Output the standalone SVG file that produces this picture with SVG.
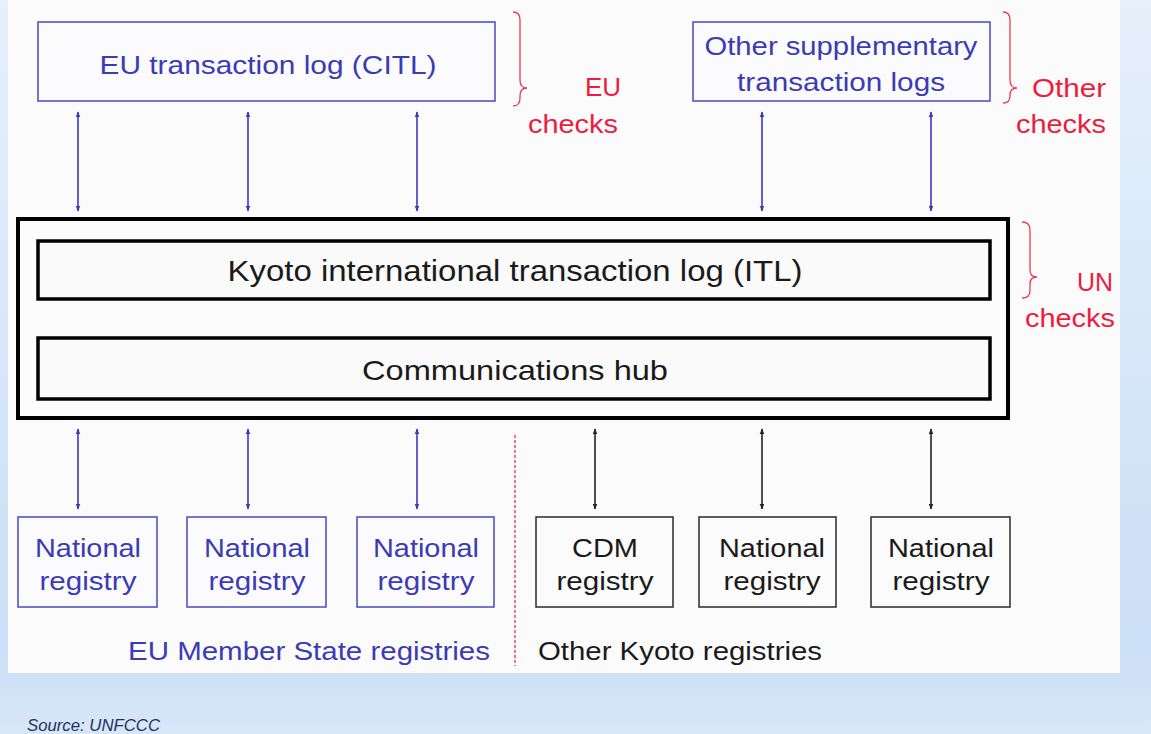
<svg xmlns="http://www.w3.org/2000/svg" width="1151" height="734" viewBox="0 0 1151 734">
<defs>
<linearGradient id="bg" x1="0" y1="0" x2="0" y2="1">
<stop offset="0" stop-color="#e6f0fb"/>
<stop offset="0.88" stop-color="#cbdff6"/>
<stop offset="1" stop-color="#d8e7f8"/>
</linearGradient>
<marker id="ab" viewBox="0 0 10 10" refX="9" refY="5" markerWidth="6" markerHeight="6" orient="auto-start-reverse" markerUnits="userSpaceOnUse">
<path d="M0,1 L10,5 L0,9 z" fill="#3a3ab8"/>
</marker>
<marker id="ak" viewBox="0 0 10 10" refX="9" refY="5" markerWidth="6" markerHeight="6" orient="auto-start-reverse" markerUnits="userSpaceOnUse">
<path d="M0,1 L10,5 L0,9 z" fill="#222"/>
</marker>
<style>
text{font-family:"Liberation Sans",Arial,sans-serif;}
.blue{fill:#3b3bb5;}
.dark{fill:#1a1a1a;}
.red{fill:#ee1c3c;}
.bbox{fill:#fbfbfd;stroke:#4a4ac0;stroke-width:1.5;}
.kbox{fill:#fbfbfb;stroke:#2a2a2a;stroke-width:1.5;}
.ib{fill:#fafafa;stroke:#000;stroke-width:3.5;}
.cb{stroke:#3a3ab8;stroke-width:1.6;fill:none;marker-start:url(#ab);marker-end:url(#ab);}
.ck{stroke:#222;stroke-width:1.6;fill:none;marker-start:url(#ak);marker-end:url(#ak);}
.brace{fill:none;stroke:#ee3a55;stroke-width:1.3;}
</style>
</defs>
<rect x="0" y="0" width="1151" height="734" fill="url(#bg)"/>
<rect x="8" y="0" width="1112" height="673" fill="#fbfbfc"/>

<g id="citl"><rect class="bbox" x="38" y="22" width="457" height="79"/>
<text class="blue" x="268" y="74" font-size="26" text-anchor="middle" textLength="337" lengthAdjust="spacingAndGlyphs">EU transaction log (CITL)</text></g>

<g id="supp"><rect class="bbox" x="693" y="22" width="297" height="79"/>
<text class="blue" x="841" y="55" font-size="26" text-anchor="middle" textLength="273" lengthAdjust="spacingAndGlyphs">Other supplementary</text>
<text class="blue" x="841" y="91" font-size="26" text-anchor="middle" textLength="208" lengthAdjust="spacingAndGlyphs">transaction logs</text></g>

<g id="eu-checks"><path class="brace" d="M513,12 Q520,12 520,20 L520,80 Q520,88 527,88 Q520,88 520,96 L520,98 Q520,106 513,106"/>
<text class="red" x="603" y="96" font-size="26" text-anchor="middle">EU</text>
<text class="red" x="573" y="133" font-size="26" text-anchor="middle" textLength="90" lengthAdjust="spacingAndGlyphs">checks</text></g>

<g id="other-checks"><path class="brace" d="M1003,12 Q1010,12 1010,20 L1010,80 Q1010,88 1017,88 Q1010,88 1010,95 L1010,96 Q1010,103 1003,103"/>
<text class="red" x="1069" y="97" font-size="26" text-anchor="middle" textLength="74" lengthAdjust="spacingAndGlyphs">Other</text>
<text class="red" x="1061" y="133" font-size="26" text-anchor="middle" textLength="90" lengthAdjust="spacingAndGlyphs">checks</text></g>

<g id="un-checks"><path class="brace" d="M1022,222 Q1030,222 1030,230 L1030,270 Q1030,277 1037,277 Q1030,277 1030,284 L1030,291 Q1030,298 1022,298"/>
<text class="red" x="1095" y="291" font-size="26" text-anchor="middle" textLength="36" lengthAdjust="spacingAndGlyphs">UN</text>
<text class="red" x="1070" y="327" font-size="26" text-anchor="middle" textLength="90" lengthAdjust="spacingAndGlyphs">checks</text></g>

<g id="itl-outer"><rect x="18" y="219" width="990" height="199" fill="#fcfcfc" stroke="#000" stroke-width="4"/></g>
<g id="itl"><rect class="ib" x="38" y="241" width="952" height="58"/>
<text class="dark" x="515" y="281" font-size="29" text-anchor="middle" textLength="575" lengthAdjust="spacingAndGlyphs">Kyoto international transaction log (ITL)</text></g>
<g id="hub"><rect class="ib" x="38" y="338" width="952" height="61"/>
<text class="dark" x="515" y="380" font-size="28" text-anchor="middle" textLength="306" lengthAdjust="spacingAndGlyphs">Communications hub</text></g>

<g id="connectors">
<line class="cb" x1="78" y1="112" x2="78" y2="211"/>
<line class="cb" x1="248" y1="112" x2="248" y2="211"/>
<line class="cb" x1="417" y1="112" x2="417" y2="211"/>
<line class="cb" x1="762" y1="112" x2="762" y2="211"/>
<line class="cb" x1="931" y1="112" x2="931" y2="211"/>
<line class="cb" x1="78" y1="429" x2="78" y2="509"/>
<line class="cb" x1="248" y1="429" x2="248" y2="509"/>
<line class="cb" x1="417" y1="429" x2="417" y2="509"/>
<line class="ck" x1="595" y1="429" x2="595" y2="509"/>
<line class="ck" x1="762" y1="429" x2="762" y2="509"/>
<line class="ck" x1="931" y1="429" x2="931" y2="509"/>
<line x1="515" y1="435" x2="515" y2="666" stroke="#ee2a55" stroke-width="1.3" stroke-dasharray="3,2"/>
</g>

<g id="eu-reg-1"><rect class="bbox" x="18" y="517" width="139" height="90"/>
<text class="blue" x="88" y="557" font-size="26" text-anchor="middle" textLength="106" lengthAdjust="spacingAndGlyphs">National</text>
<text class="blue" x="88" y="590" font-size="26" text-anchor="middle" textLength="97" lengthAdjust="spacingAndGlyphs">registry</text></g>
<g id="eu-reg-2"><rect class="bbox" x="187" y="517" width="139" height="90"/>
<text class="blue" x="257" y="557" font-size="26" text-anchor="middle" textLength="106" lengthAdjust="spacingAndGlyphs">National</text>
<text class="blue" x="257" y="590" font-size="26" text-anchor="middle" textLength="97" lengthAdjust="spacingAndGlyphs">registry</text></g>
<g id="eu-reg-3"><rect class="bbox" x="357" y="517" width="137" height="90"/>
<text class="blue" x="426" y="557" font-size="26" text-anchor="middle" textLength="106" lengthAdjust="spacingAndGlyphs">National</text>
<text class="blue" x="426" y="590" font-size="26" text-anchor="middle" textLength="97" lengthAdjust="spacingAndGlyphs">registry</text></g>
<g id="cdm-reg"><rect class="kbox" x="536" y="517" width="137" height="90"/>
<text class="dark" x="605" y="557" font-size="26" text-anchor="middle" textLength="66" lengthAdjust="spacingAndGlyphs">CDM</text>
<text class="dark" x="605" y="590" font-size="26" text-anchor="middle" textLength="97" lengthAdjust="spacingAndGlyphs">registry</text></g>
<g id="k-reg-1"><rect class="kbox" x="699" y="517" width="137" height="90"/>
<text class="dark" x="772" y="557" font-size="26" text-anchor="middle" textLength="106" lengthAdjust="spacingAndGlyphs">National</text>
<text class="dark" x="772" y="590" font-size="26" text-anchor="middle" textLength="97" lengthAdjust="spacingAndGlyphs">registry</text></g>
<g id="k-reg-2"><rect class="kbox" x="871" y="517" width="139" height="90"/>
<text class="dark" x="941" y="557" font-size="26" text-anchor="middle" textLength="106" lengthAdjust="spacingAndGlyphs">National</text>
<text class="dark" x="941" y="590" font-size="26" text-anchor="middle" textLength="97" lengthAdjust="spacingAndGlyphs">registry</text></g>

<text class="blue" x="128" y="660" font-size="26" textLength="362" lengthAdjust="spacingAndGlyphs">EU Member State registries</text>
<text class="dark" x="538" y="660" font-size="26" textLength="284" lengthAdjust="spacingAndGlyphs">Other Kyoto registries</text>
<text x="27" y="731" font-size="16" font-style="italic" fill="#1f3060" textLength="133" lengthAdjust="spacingAndGlyphs">Source: UNFCCC</text>
</svg>
